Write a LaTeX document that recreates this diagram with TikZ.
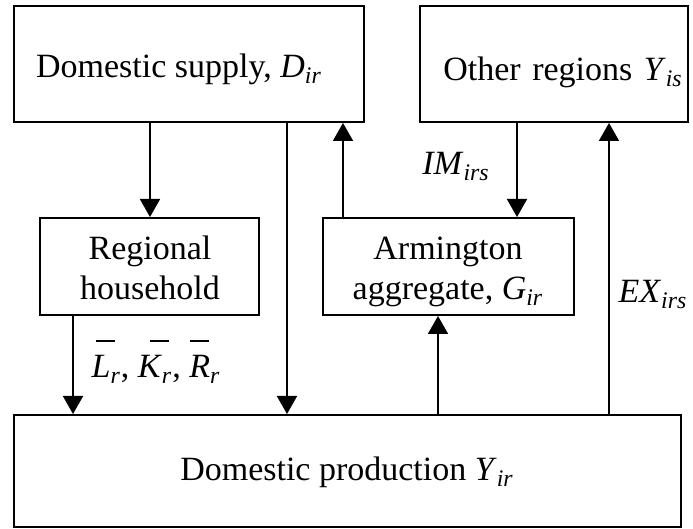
\documentclass[tikz,border=0pt]{standalone}
\usepackage{fontspec}
\setmainfont{Liberation Serif}
\usetikzlibrary{arrows.meta}
\newcommand{\vsub}[2]{\textit{#1}\textsubscript{\textit{#2}}}
\newcommand{\barsub}[3]{\makebox[0pt][l]{\hspace*{#3}\rule[18pt]{9.5pt}{0.8pt}}\textit{#1}\textsubscript{\textit{#2}}}
\begin{document}
\begin{tikzpicture}[x=0.5pt,y=-0.5pt,
 box/.style={draw,line width=1pt,inner sep=0pt},
 txt/.style={inner sep=0pt,anchor=base,align=center,font=\fontsize{17}{20}\selectfont},
 arr/.style={line width=0.9pt,-{Triangle[width=10pt,length=9pt]}}]
\useasboundingbox (0,0) rectangle (693,529);
% boxes
\node[box,minimum width=175pt,minimum height=58pt] (ds) at (189,64) {};
\node[box,minimum width=134pt,minimum height=58pt] (or) at (554,64) {};
\node[box,minimum width=109.5pt,minimum height=48.5pt] (hh) at (149.5,266.5) {};
\node[box,minimum width=125.5pt,minimum height=48.5pt] (arm) at (448.5,266.5) {};
\node[box,minimum width=333.5pt,minimum height=56pt] (prod) at (347.5,471) {};
% box texts (multi-line nodes: base = last line)
\node[txt] (dsT) at (179,78) {Domestic supply, \vsub{D}{ir}};
\node[txt] (orT) at (563,81) {Other\hspace{5.75pt}regions\hspace{5.75pt}\vsub{Y}{is}};
\node[txt] (hhT) at (150,300) {Regional\\household};
\node[txt] (armT) at (448,300) {Armington\\aggregate, \vsub{G}{ir}};
\node[txt] (prodT) at (347,481) {Domestic production \vsub{Y}{ir}};
% connector x positions
\coordinate (x73) at (73,0);
\coordinate (x150) at (150,0);
\coordinate (x287) at (287,0);
\coordinate (x343) at (343,0);
\coordinate (x438) at (438,0);
\coordinate (x517) at (517,0);
\coordinate (x609) at (609,0);
\draw[arr] (ds.south -| x150) -- (hh.north -| x150);
\draw[arr] (ds.south -| x287) -- (prod.north -| x287);
\draw[arr] (arm.north -| x343) -- (ds.south -| x343);
\draw[arr] (or.south -| x517) -- (arm.north -| x517);
\draw[arr] (prod.north -| x609) -- (or.south -| x609);
\draw[arr] (prod.north -| x438) -- (arm.south -| x438);
\draw[arr] (hh.south -| x73) -- (prod.north -| x73);
% connector labels
\node[txt] (im) at (456,175) {\vsub{IM}{irs}};
\node[txt] (ex) at (653,303) {\vsub{EX}{irs}};
\node[txt] (lkr) at (156,378) {\barsub{L}{r}{2pt}, \barsub{K}{r}{6pt}, \barsub{R}{r}{0.5pt}};
\end{tikzpicture}
\end{document}
